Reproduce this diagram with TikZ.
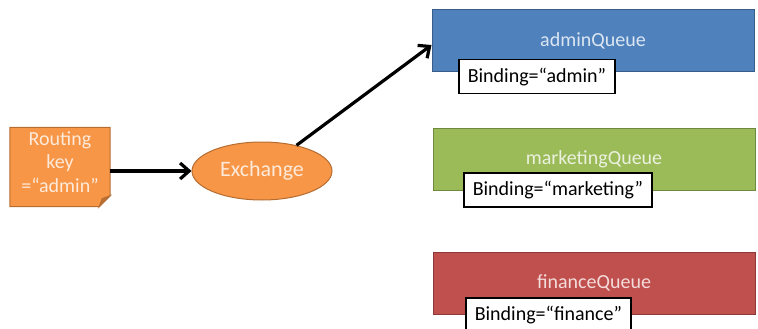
\documentclass[tikz,border=0pt]{standalone}
\usepackage{fontspec}
\setmainfont{Carlito}
\usepackage{tikz}
\usetikzlibrary{arrows.meta}
\usetikzlibrary{shapes.geometric, backgrounds}

\definecolor{keyorange}{RGB}{247,150,70}
\definecolor{keyborder}{RGB}{182,109,49}
\definecolor{adminblue}{RGB}{79,129,189}
\definecolor{adminborder}{RGB}{56,93,138}
\definecolor{mktgreen}{RGB}{155,187,89}
\definecolor{mktborder}{RGB}{113,137,63}
\definecolor{finred}{RGB}{192,80,77}
\definecolor{finborder}{RGB}{140,56,54}

\tikzset{
  big/.style={font=\fontsize{20}{23.5}\selectfont},
  queue/.style={rectangle, big, minimum width=322pt, minimum height=62pt, line width=1pt},
  bind/.style={rectangle, big, draw=black, line width=1.5pt, fill=white, anchor=north west,
    minimum height=34pt, inner xsep=9pt, inner ysep=0pt},
  exch/.style={ellipse, font=\fontsize{22}{26}\selectfont, fill=keyorange, draw=keyborder, line width=1pt,
    minimum width=140pt, minimum height=58pt, text=white!80!keyorange},
  keytext/.style={big, align=center, text=white!80!keyorange, yshift=5pt},
  msg/.style={line width=3.2pt, -{Straight Barb[length=9pt, width=16pt, line width=3.2pt]}}
}

\begin{document}
\begin{tikzpicture}[x=1pt, y=-1pt]
\useasboundingbox (0,0) rectangle (758,329);

\node[minimum width=100pt, minimum height=79pt, inner sep=0pt,
  label={[keytext]center:{Routing\\key\\=“admin”}}] (key) at (60,167) {};
\begin{scope}[on background layer]
\filldraw[fill=keyorange, draw=keyborder, line width=1pt] (key.north west) -- (key.north east)
  -- ([yshift=11pt]key.south east) -- ([xshift=-11pt]key.south east) -- (key.south west) -- cycle;
\filldraw[fill=keyorange!75!black, draw=keyborder, line width=1pt] ([yshift=11pt]key.south east)
  -- ([shift={(-8pt,8pt)}]key.south east) -- ([xshift=-11pt]key.south east) -- cycle;
\end{scope}

\node[exch] (exchange) at (262,171) {Exchange};

\node[queue, fill=adminblue, draw=adminborder, text=white!80!adminblue] (adminq) at (593,41) {adminQueue};
\node[queue, fill=mktgreen, draw=mktborder, text=white!80!mktgreen] (marketingq) at (594,159) {marketingQueue};
\node[queue, fill=finred, draw=finborder, text=white!80!finred] (financeq) at (594,283) {financeQueue};

\node[bind] (adminbind) at (458,59) {Binding=“admin”};
\node[bind] (marketingbind) at (463,172) {Binding=“marketing”};
\node[bind] (financebind) at (465,297) {Binding=“finance”};

\draw[msg] (key.east |- exchange.west) -- (exchange.west);
\draw[msg] (exchange) -- ([yshift=-4pt]adminq.west);
\end{tikzpicture}
\end{document}
